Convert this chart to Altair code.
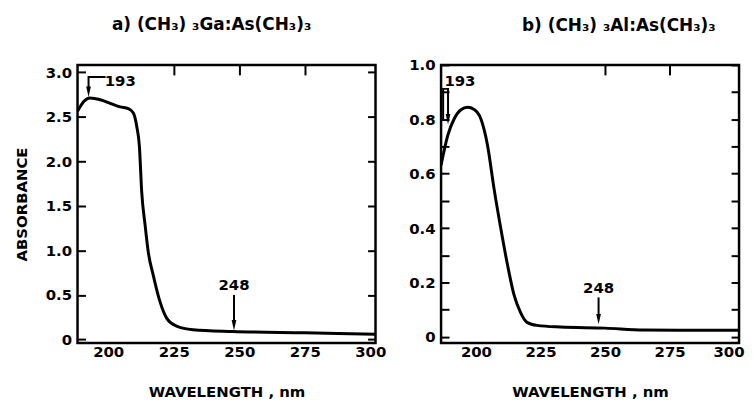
import altair as alt
import pandas as pd

FONT = "DejaVu Sans"

# ---- panel a) (CH3)3Ga:As(CH3)3 ----
A_TITLE = "a) (CH₃) ₃Ga:As(CH₃)₃"
A_WL = [188.3, 190.7, 193.0, 197.0, 200.8, 204.6, 207.7, 209.6, 210.9, 211.9, 212.8,
        214.1, 215.3, 217.2, 219.7, 222.3, 226.1, 232.4, 247.5, 275.0, 302.0]
A_ABS = [2.56, 2.67, 2.71, 2.69, 2.65, 2.61, 2.59, 2.54, 2.39, 2.17, 1.65,
         1.28, 0.98, 0.72, 0.43, 0.24, 0.15, 0.11, 0.09, 0.075, 0.06]
A_YTICKS = [0, 0.5, 1.0, 1.5, 2.0, 2.5, 3.0]
A_TOPTICKS = [225, 250, 275]

# ---- panel b) (CH3)3Al:As(CH3)3 ----
B_TITLE = "b) (CH₃) ₃Al:As(CH₃)₃"
B_WL = [186.5, 189.1, 191.6, 194.2, 196.8, 199.3, 201.9, 204.5, 207.0, 209.6, 212.2,
        214.7, 217.3, 219.8, 223.7, 232.7, 250.0, 265.0, 302.0]
B_ABS = [0.631, 0.741, 0.802, 0.835, 0.844, 0.836, 0.802, 0.704, 0.546, 0.40, 0.266,
         0.156, 0.089, 0.053, 0.042, 0.036, 0.032, 0.025, 0.024]
B_YTICKS = [0, 0.1, 0.2, 0.3, 0.4, 0.5, 0.6, 0.7, 0.8, 0.9, 1.0]
B_TOPTICKS = [250, 275]

X_LABELS = [200, 225, 250, 275, 300]

# annotations: label texts and positions (data units)
A_NOTE_TEXT = ["193", "248"]
A_NOTE_X = [204.6, 248.0]
A_NOTE_Y = [2.90, 0.61]
A_PATH_GRP = ["p193", "p193", "p193", "p248", "p248"]
A_PATH_X = [199.0, 192.5, 192.5, 248.0, 248.0]
A_PATH_Y = [2.945, 2.945, 2.80, 0.50, 0.17]
A_HEAD_X = [192.5, 248.0]
A_HEAD_Y = [2.78, 0.16]

B_NOTE_TEXT = ["193", "248"]
B_NOTE_X = [193.8, 247.5]
B_NOTE_Y = [0.942, 0.178]
B_PATH_GRP = ["p193", "p193", "p193", "p193", "p248", "p248"]
B_PATH_X = [187.3, 187.3, 189.2, 189.2, 247.5, 247.5]
B_PATH_Y = [0.80, 0.912, 0.912, 0.82, 0.145, 0.07]
B_HEAD_X = [189.2, 247.5]
B_HEAD_Y = [0.80, 0.065]

ARROW = "M-0.45,-1L0.45,-1L0,1Z"

lab = dict(labelFont=FONT, labelFontSize=15, labelFontWeight="bold", labelColor="black",
           titleFont=FONT, titleFontSize=15, titleFontWeight="bold", titleColor="black",
           tickColor="black", grid=False)
nolab = {k: v for k, v in lab.items() if not k.startswith("label")}


def panel(wl, ab, xdom, ydom, yticks, ylabexpr, toptix, ytitle, title, title_dx, title_off,
          xflush, ntext, nx, ny, pgrp, px, py, hx, hy):
    df = pd.DataFrame({"wl": wl, "abs": ab})
    xs = alt.Scale(domain=xdom, nice=False, zero=False)
    ys = alt.Scale(domain=ydom, nice=False, zero=False)

    yaxis_kw = dict(orient="left", values=yticks, offset=-8, tickSize=8, tickWidth=2,
                    domain=False, labelPadding=6, labelExpr=ylabexpr, **lab)
    if ytitle:
        yaxis_kw.update(title=ytitle, titlePadding=16)
    else:
        yaxis_kw.update(title=None)

    xaxis_kw = dict(orient="bottom", values=X_LABELS, ticks=False, domain=False,
                    labelPadding=2, title="WAVELENGTH , nm", titlePadding=25, **lab)
    if xflush:
        xaxis_kw.update(labelFlush=6, labelFlushOffset=10)
    else:
        xaxis_kw.update(labelFlush=False)

    line = alt.Chart(df).mark_line(color="black", strokeWidth=3, interpolate="monotone",
                                   clip=True).encode(
        x=alt.X("wl:Q", scale=xs, axis=alt.Axis(**xaxis_kw)),
        y=alt.Y("abs:Q", scale=ys, axis=alt.Axis(**yaxis_kw)),
    )

    frame_axes = alt.Chart(df).mark_point(opacity=0).encode(
        x=alt.X("wl:Q", scale=xs,
                axis=alt.Axis(orient="top", values=toptix, offset=-10, tickSize=10,
                              tickWidth=2, labels=False, domain=False, title=None, **nolab)),
        y=alt.Y("abs:Q", scale=ys,
                axis=alt.Axis(orient="right", values=yticks, offset=-8, tickSize=8,
                              tickWidth=2, labels=False, domain=False, title=None, **nolab)),
    )

    pdf = pd.DataFrame({"g": pgrp, "x": px, "y": py, "o": list(range(len(px)))})
    paths = alt.Chart(pdf).mark_line(color="black", strokeWidth=2).encode(
        x=alt.X("x:Q", scale=xs, axis=None),
        y=alt.Y("y:Q", scale=ys, axis=None),
        detail="g:N", order="o:Q")

    hdf = pd.DataFrame({"x": hx, "y": hy})
    heads = alt.Chart(hdf).mark_point(shape=ARROW, filled=True, size=110, color="black",
                                      opacity=1).encode(
        x=alt.X("x:Q", scale=xs, axis=None),
        y=alt.Y("y:Q", scale=ys, axis=None))

    tdf = pd.DataFrame({"t": ntext, "x": nx, "y": ny})
    texts = alt.Chart(tdf).mark_text(font=FONT, fontSize=15, fontWeight="bold",
                                     color="black", align="center",
                                     baseline="middle").encode(
        x=alt.X("x:Q", scale=xs, axis=None),
        y=alt.Y("y:Q", scale=ys, axis=None),
        text="t:N")

    return alt.layer(line, frame_axes, paths, heads, texts).resolve_axis(
        x="independent", y="independent"
    ).properties(
        width=300, height=280,
        title=alt.TitleParams(text=title, font=FONT, fontSize=17, fontWeight="bold",
                              color="black", dx=title_dx, offset=title_off),
    )


pa = panel(A_WL, A_ABS, [188.3, 302.0], [-0.04, 3.08], A_YTICKS,
           "datum.value == 0 ? '0' : format(datum.value, '.1f')", A_TOPTICKS,
           "ABSORBANCE", A_TITLE, -15, 30, False,
           A_NOTE_TEXT, A_NOTE_X, A_NOTE_Y, A_PATH_GRP, A_PATH_X, A_PATH_Y, A_HEAD_X, A_HEAD_Y)
pb = panel(B_WL, B_ABS, [186.5, 301.9], [-0.023, 1.0], B_YTICKS,
           "datum.value == 0 ? '0' : (round(datum.value * 10) % 2 == 0 ? format(datum.value, '.1f') : '')",
           B_TOPTICKS, None, B_TITLE, 29, 23, True,
           B_NOTE_TEXT, B_NOTE_X, B_NOTE_Y, B_PATH_GRP, B_PATH_X, B_PATH_Y, B_HEAD_X, B_HEAD_Y)

chart = alt.hconcat(pa, pb, spacing=20).resolve_scale(
    x="independent", y="independent"
).properties(
    padding={"left": 5, "top": 5, "right": 0, "bottom": 0},
    background="white",
).configure_view(stroke="black", strokeWidth=2.5)

chart.save("out.html", embed_options={"renderer": "svg", "actions": False})
